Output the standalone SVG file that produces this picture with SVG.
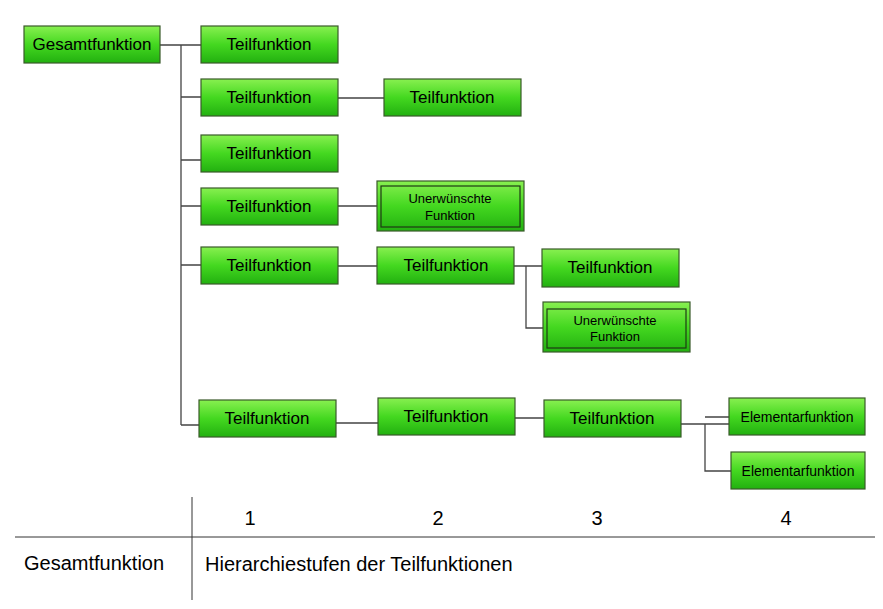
<svg xmlns="http://www.w3.org/2000/svg" width="883" height="609" viewBox="0 0 883 609">
<defs>
<linearGradient id="g" x1="0" y1="0" x2="0" y2="1"><stop offset="0" stop-color="#88f050"/><stop offset="0.5" stop-color="#44d820"/><stop offset="1" stop-color="#22b010"/></linearGradient>
</defs>
<style>
.n{fill:url(#g);stroke:#3a5a2a;stroke-width:1.2}
.i{fill:none;stroke:#1f3a14;stroke-width:1.2}
.t{font-family:"Liberation Sans",Arial,sans-serif;font-size:17px;text-anchor:middle;fill:#000}
.s{font-family:"Liberation Sans",Arial,sans-serif;font-size:13px;text-anchor:middle;fill:#000}
.b{font-family:"Liberation Sans",Arial,sans-serif;font-size:20px;fill:#000}
.c{fill:none;stroke:#444;stroke-width:1.3}
</style>
<rect width="883" height="609" fill="#fff"/>
<g id="connectors">
<path class="c" d="M160 45H201M181 45V425M181 97H201M181 160H201M181 206H201M181 265H201M181 425H199M338 98H384M338 206H377M338 266H377M514 266H542M526 266V328H543M336 423H378M515 418H544M681 424H729M705 424V471H731M705 417H729"/>
</g>
<g id="n0"><rect class="n" x="24" y="26" width="136" height="37"/><text class="t" x="92" y="50">Gesamtfunktion</text></g>
<g id="n1"><rect class="n" x="201" y="26" width="137" height="37"/><text class="t" x="269" y="50">Teilfunktion</text></g>
<g id="n2"><rect class="n" x="201" y="79" width="137" height="37"/><text class="t" x="269" y="103">Teilfunktion</text></g>
<g id="n3"><rect class="n" x="384" y="79" width="137" height="37"/><text class="t" x="452" y="103">Teilfunktion</text></g>
<g id="n4"><rect class="n" x="201" y="135" width="137" height="37"/><text class="t" x="269" y="159">Teilfunktion</text></g>
<g id="n5"><rect class="n" x="201" y="188" width="137" height="37"/><text class="t" x="269" y="212">Teilfunktion</text></g>
<g id="n6"><rect class="n" x="377" y="181" width="147" height="50"/><rect class="i" x="381" y="186" width="139" height="41"/><text class="s" x="450" y="203">Unerwünschte</text><text class="s" x="450" y="220">Funktion</text></g>
<g id="n7"><rect class="n" x="201" y="247" width="137" height="37"/><text class="t" x="269" y="271">Teilfunktion</text></g>
<g id="n8"><rect class="n" x="377" y="247" width="137" height="37"/><text class="t" x="446" y="271">Teilfunktion</text></g>
<g id="n9"><rect class="n" x="542" y="249" width="137" height="38"/><text class="t" x="610" y="273">Teilfunktion</text></g>
<g id="n10"><rect class="n" x="543" y="302" width="147" height="50"/><rect class="i" x="547" y="309" width="139" height="39"/><text class="s" x="615" y="325">Unerwünschte</text><text class="s" x="615" y="341">Funktion</text></g>
<g id="n11"><rect class="n" x="199" y="400" width="137" height="37"/><text class="t" x="267" y="424">Teilfunktion</text></g>
<g id="n12"><rect class="n" x="378" y="398" width="137" height="37"/><text class="t" x="446" y="422">Teilfunktion</text></g>
<g id="n13"><rect class="n" x="544" y="400" width="137" height="37"/><text class="t" x="612" y="424">Teilfunktion</text></g>
<g id="n14"><rect class="n" x="729" y="398" width="136" height="37"/><text class="s" x="797" y="422" style="font-size:14px">Elementarfunktion</text></g>
<g id="n15"><rect class="n" x="731" y="452" width="134" height="37"/><text class="s" x="798" y="476" style="font-size:14px">Elementarfunktion</text></g>
<g id="table">
<path d="M192 497V600M15 537H875" stroke="#333" stroke-width="1" fill="none"/>
<text class="b" x="250" y="525" text-anchor="middle">1</text>
<text class="b" x="438" y="525" text-anchor="middle">2</text>
<text class="b" x="597" y="525" text-anchor="middle">3</text>
<text class="b" x="786" y="525" text-anchor="middle">4</text>
<text class="b" x="24" y="570">Gesamtfunktion</text>
<text class="b" x="205" y="571">Hierarchiestufen der Teilfunktionen</text>
</g>
</svg>
